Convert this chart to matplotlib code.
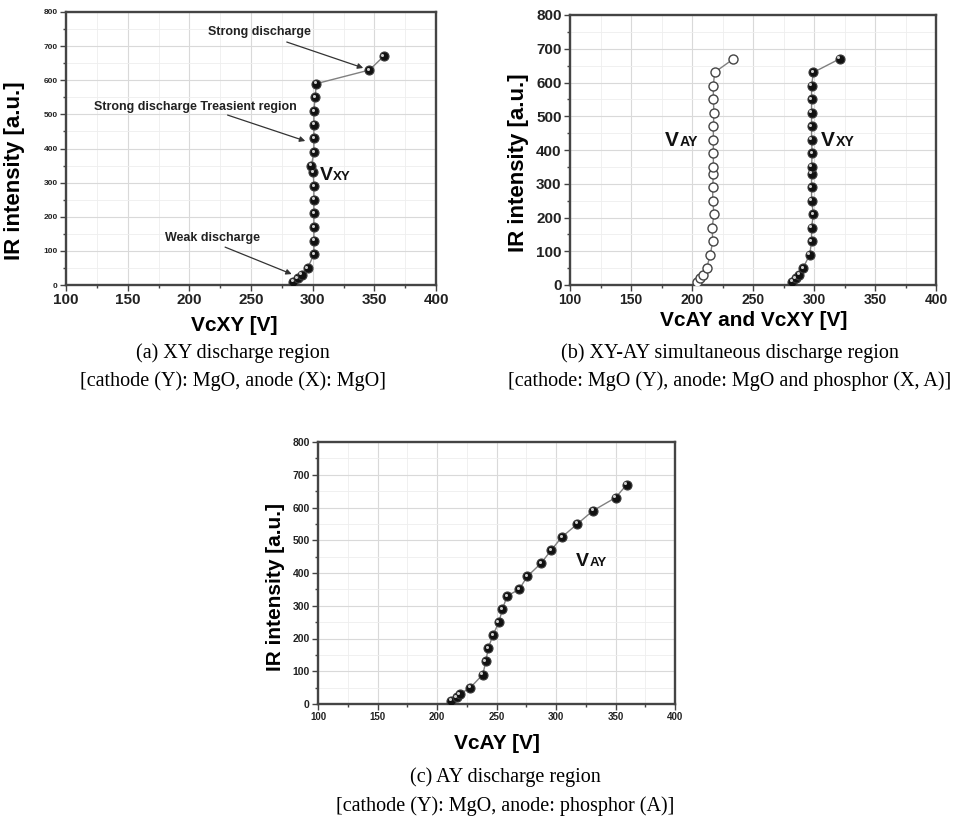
import matplotlib
matplotlib.use('Agg')
import matplotlib.pyplot as plt
from matplotlib.ticker import MultipleLocator
from matplotlib.transforms import offset_copy

plt.rcParams['font.family'] = ['Liberation Sans', 'DejaVu Sans']
plt.rcParams['font.weight'] = 'bold'

# IR intensity levels (same measurement steps for every curve)
ir_levels = [10, 20, 30, 50, 90, 130, 170, 210, 250, 290, 330, 350,
             390, 430, 470, 510, 550, 590, 630, 670]

# (a) XY discharge
vc_xy_a = [284, 288, 291, 296, 301, 301, 301, 301, 301, 301, 300.5, 299,
           301, 301, 301, 301, 302, 303, 346, 357.5]
# (b) XY-AY simultaneous discharge
vc_xy_b = [282, 285, 288, 291, 296.5, 298, 298, 299.5, 298, 298, 298, 298,
           298.5, 298, 298, 298, 298, 298, 299.5, 321]
vc_ay_b = [204, 206.5, 209, 212, 215, 217, 216.5, 218, 217, 217, 217.5, 217.5,
           217.5, 217.5, 217.5, 218, 217.5, 217.5, 218.5, 234]
# (c) AY discharge
vc_ay_c = [212, 216.5, 219, 228, 238.5, 241, 243, 247, 252, 255, 259, 269,
           276, 287.5, 296, 305, 318, 331, 350, 359.5]

W, H = 969, 819
fig = plt.figure(figsize=(W / 100, H / 100), dpi=100)


def px_axes(x0, y0, x1, y1):
    # axes box given in pixel coordinates (top-left origin)
    return fig.add_axes([x0 / W, 1 - y1 / H, (x1 - x0) / W, (y1 - y0) / H])


def style_axes(ax, xtick_size, ytick_size):
    ax.set_xlim(100, 400)
    ax.set_ylim(0, 800)
    ax.xaxis.set_major_locator(MultipleLocator(50))
    ax.xaxis.set_minor_locator(MultipleLocator(25))
    ax.yaxis.set_major_locator(MultipleLocator(100))
    ax.yaxis.set_minor_locator(MultipleLocator(50))
    ax.grid(True, which='major', color='#d9d9d9', lw=0.8)
    ax.grid(True, which='minor', color='#eeeeee', lw=0.6)
    ax.set_axisbelow(True)
    for s in ax.spines.values():
        s.set_color('#444444')
        s.set_linewidth(1.7)
    ax.tick_params(which='both', direction='out', color='#444444', width=1.0)
    ax.tick_params(which='major', length=4)
    ax.tick_params(which='minor', length=2)
    ax.tick_params(axis='x', labelsize=xtick_size, pad=2)
    ax.tick_params(axis='y', labelsize=ytick_size, pad=2)
    for lab in ax.get_xticklabels() + ax.get_yticklabels():
        lab.set_fontweight('bold')
        lab.set_color('#222222')


def labels(ax, xlabel, xpos, ylabel, ypos, ysize):
    ax.set_xlabel(xlabel, fontsize=15, fontweight='bold', va='center')
    ax.xaxis.set_label_coords(*xpos)
    ax.set_ylabel(ylabel, fontsize=ysize, fontweight='bold', va='center')
    ax.yaxis.set_label_coords(*ypos)


def spheres(ax, x, y):
    ax.plot(x, y, '-', color='#808080', lw=1.0, zorder=3)
    ax.plot(x, y, 'o', ms=6.5, mfc='#111111', mec='#3a3a3a', mew=0.8,
            ls='none', zorder=4)
    hl = offset_copy(ax.transData, fig=fig, x=-1.0, y=1.0, units='points')
    ax.plot(x, y, 'o', ms=2.2, mfc='#cfcfcf', mec='none', ls='none',
            transform=hl, zorder=5)


def open_circles(ax, x, y):
    ax.plot(x, y, '-', color='#808080', lw=1.0, zorder=3)
    ax.plot(x, y, 'o', ms=6.5, mfc='white', mec='#444444', mew=1.0,
            ls='none', zorder=4)


def v_label(ax, x, y, sub, size):
    ax.text(x, y, 'V', fontsize=size, fontweight='bold', ha='left',
            va='baseline', color='#111111')
    ax.annotate(sub, xy=(x, y), xytext=(0.68 * size, 0),
                textcoords='offset points', fontsize=size * 0.68,
                fontweight='bold', ha='left', va='baseline', color='#111111')


def caption(xc, y, text):
    fig.text(xc / W, 1 - y / H, text, ha='center', va='center',
             fontsize=14.5, family='Liberation Serif', fontweight='normal')


arrow_kw = dict(arrowstyle='-|>', color='#333333', lw=0.9,
                mutation_scale=8, shrinkA=0, shrinkB=0)

# ---- (a) XY discharge region ----
ax_a = px_axes(66, 12, 436, 285)
style_axes(ax_a, 11, 6)
spheres(ax_a, vc_xy_a, ir_levels)
labels(ax_a, 'VcXY [V]', (0.454, -0.147), 'IR intensity [a.u.]',
       (-0.138, 0.418), 16)
v_label(ax_a, 306, 309, 'XY', 14)
ax_a.text(257, 742, 'Strong discharge', fontsize=9, fontweight='bold',
          ha='center', va='center', color='#222222')
ax_a.annotate('', xy=(341, 636), xytext=(279, 712), arrowprops=arrow_kw)
ax_a.text(205, 522, 'Strong discharge Treasient region', fontsize=9,
          fontweight='bold', ha='center', va='center', color='#222222')
ax_a.annotate('', xy=(294, 422), xytext=(231, 498), arrowprops=arrow_kw)
ax_a.text(219, 138, 'Weak discharge', fontsize=9, fontweight='bold',
          ha='center', va='center', color='#222222')
ax_a.annotate('', xy=(283, 32), xytext=(229, 111), arrowprops=arrow_kw)

# ---- (b) XY-AY simultaneous discharge region ----
ax_b = px_axes(570, 15, 936, 285)
style_axes(ax_b, 10, 11)
open_circles(ax_b, vc_ay_b, ir_levels)
spheres(ax_b, vc_xy_b, ir_levels)
labels(ax_b, 'VcAY and VcXY [V]', (0.503, -0.13), 'IR intensity [a.u.]',
       (-0.142, 0.452), 16)
v_label(ax_b, 178, 412, 'AY', 15)
v_label(ax_b, 306, 412, 'XY', 15)

# ---- (c) AY discharge region ----
ax_c = px_axes(318, 442, 675, 704)
style_axes(ax_c, 7, 7.5)
spheres(ax_c, vc_ay_c, ir_levels)
labels(ax_c, 'VcAY [V]', (0.501, -0.149), 'IR intensity [a.u.]',
       (-0.12, 0.447), 15)
v_label(ax_c, 317, 421, 'AY', 14)

# ---- captions ----
caption(233, 353, '(a) XY discharge region')
caption(233, 381, '[cathode (Y): MgO, anode (X): MgO]')
caption(730, 353, '(b) XY-AY simultaneous discharge region')
caption(730, 381, '[cathode: MgO (Y), anode: MgO and phosphor (X, A)]')
caption(505, 777, '(c) AY discharge region')
caption(505, 806, '[cathode (Y): MgO, anode: phosphor (A)]')

fig.savefig('out.png', dpi=100)
